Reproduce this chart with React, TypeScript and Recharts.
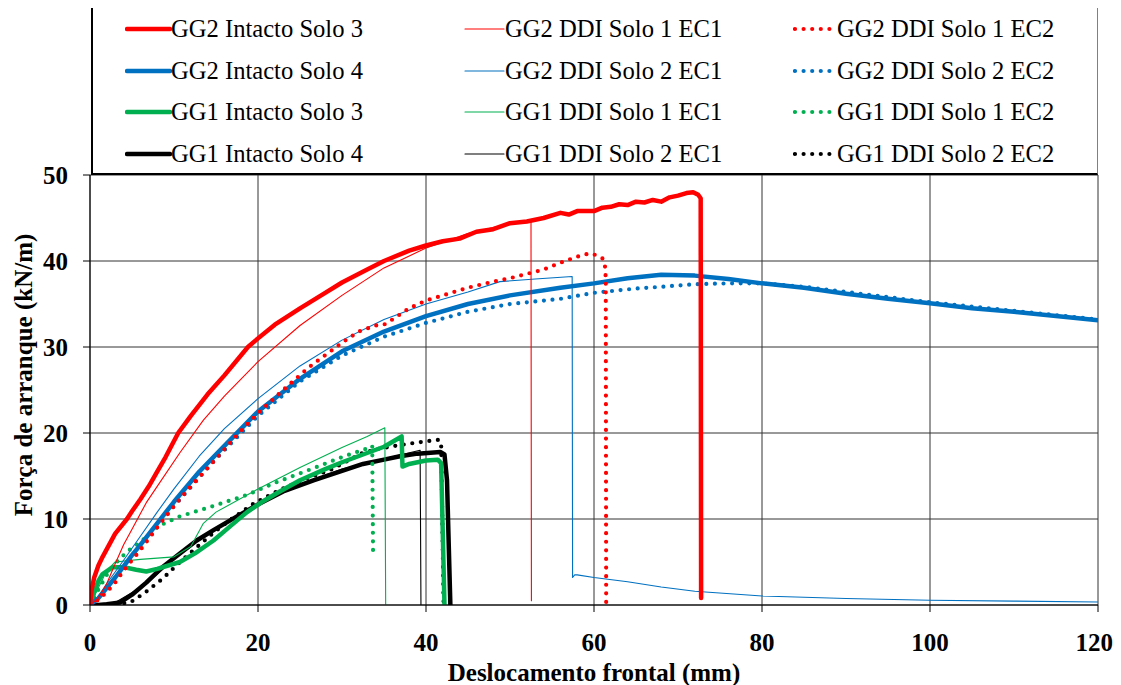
import React from 'react';
import { LineChart, Line, XAxis, YAxis, CartesianGrid } from 'recharts';

type Pt = [number, number];

const xTicks = [0, 20, 40, 60, 80, 100, 120];
const yTicks = [0, 10, 20, 30, 40, 50];
const xTitle = 'Deslocamento frontal (mm)';
const yTitle = 'Força de arranque (kN/m)';

const gg2IntactoSolo3: Pt[] = [[0,0],[0.2,1.8],[0.5,3.2],[1,4.6],[1.5,5.6],[2,6.5],[3,8.3],[4.4,10],[5,10.9],[6,12.3],[7,13.8],[8,15.5],[9,17.2],[10.5,20],[12,22],[14,24.5],[16,26.7],[18.8,30],[20,31],[22,32.6],[25,34.5],[28,36.3],[30,37.5],[33,39],[35,40],[38,41.2],[40,41.8],[42,42.3],[44,42.6],[46,43.4],[48,43.7],[50,44.4],[52,44.6],[54,45.0],[56,45.6],[57,45.4],[58,45.8],[60,45.8],[61,46.2],[62,46.3],[63,46.6],[64,46.5],[65,46.9],[66,46.8],[67,47.1],[68,46.9],[69,47.4],[70,47.6],[71,47.9],[71.8,48.0],[72.4,47.7],[72.7,47.3],[72.75,0.8]];
const gg2IntactoSolo4: Pt[] = [[0,0],[1,0.8],[2,2],[3,3.2],[4,4.5],[5,5.8],[6,7],[8,9.5],[10,12],[13,15.5],[16,18.5],[20,22.5],[25,26.3],[30,29.5],[35,31.8],[40,33.6],[45,35],[50,36],[56,36.9],[60,37.4],[64,38],[68,38.4],[72,38.3],[76,37.9],[80,37.4],[85,36.9],[90,36.2],[95,35.6],[100,35.1],[105,34.5],[110,34.1],[115,33.6],[120,33.1]];
const gg1IntactoSolo3: Pt[] = [[0,0],[0.5,1.5],[1,2.8],[1.5,3.6],[2.7,4.4],[4,4.4],[5.5,4.1],[6.7,3.9],[8,4.2],[10.7,5],[12.5,6],[14.7,7.5],[16.5,9],[18.7,10.8],[20.5,12],[22.6,13.2],[25,14.5],[28,15.8],[30,16.6],[32.5,17.5],[35,18.4],[37.1,19.6],[37.2,16.1],[38,16.4],[40,16.8],[41.4,16.9],[41.8,16.5],[42.2,0]];
const gg1IntactoSolo4: Pt[] = [[0,0],[1,0],[2,0.1],[3.6,0.3],[5,1.2],[6.7,2.6],[8.5,4.3],[10.7,6],[12.7,7.5],[14.7,8.7],[17.5,10.3],[20.2,11.8],[23,13.2],[26.6,14.5],[30,15.6],[32.5,16.4],[35,16.9],[36.9,17.3],[39,17.6],[41.7,17.8],[42.2,17.5],[42.5,14.5],[42.9,0]];

const gg2DdiSolo1Ec1: Pt[] = [[0,0],[1,0.8],[2,2.5],[3,4.8],[4,7],[5,8.8],[6.7,11.9],[8,13.8],[10.7,17.7],[13.5,21.5],[16,24.3],[20,28.3],[25,32.5],[30,36],[35,39.2],[40,41.5],[45,43.2],[48,43.9],[50,44.3],[52.5,44.5],[52.55,0.5]];
const gg2DdiSolo2Ec1: Pt[] = [[0,0],[1,1],[2,2.5],[4,5.2],[6,8],[8,10.8],[10,13.5],[13,17.3],[16,20.5],[20,24],[25,27.8],[30,30.8],[35,33.2],[40,35],[45,36.4],[48.8,37.6],[53,37.9],[57.4,38.2],[57.45,3.2],[57.7,3.5],[58,3.5],[60,3.2],[64,2.7],[68,2.1],[72,1.6],[80,1.05],[90,0.75],[100,0.55],[110,0.45],[120,0.35]];
const gg1DdiSolo1Ec1: Pt[] = [[0,0],[1,2],[2,4],[3,5],[6,5.3],[10,5.6],[12,6.8],[13.5,9.5],[15,10.8],[20,13.5],[25,16],[30,18.3],[33,19.6],[35.1,20.6],[35.2,0]];
const gg1DdiSolo2Ec1: Pt[] = [[0,0],[3,0.3],[6,2],[8,3.6],[10,5.3],[12.5,7.2],[15,8.8],[20,11.8],[25,14],[30,15.8],[35,17],[39.3,18],[39.4,0]];

const gg2DdiSolo1Ec2: Pt[] = [[0,0],[1,0.6],[2,1.5],[3,2.6],[4,4],[5,5.2],[6,6.4],[8,9],[10,11.5],[12,13.8],[15,17],[18,20.3],[20,22.3],[23,25],[26,27.6],[30,30.5],[32,31.8],[34,32.5],[35,32.6],[36,33.2],[38,34.5],[40,35.4],[42,36],[45,36.9],[48,37.6],[50,38],[52,38.5],[54,39],[56,39.8],[58,40.5],[59.5,40.9],[60.5,40.6],[61,40.3],[61.3,39.5],[61.4,38],[61.45,0]];
const gg2DdiSolo2Ec2: Pt[] = [[0,0],[1,0.7],[2,1.8],[4,4.2],[6,6.8],[8,9.2],[10,11.5],[15,17],[20,22],[25,26],[30,29],[35,31.2],[40,32.8],[45,34.1],[50,35],[56,35.6],[60,36.3],[65,36.8],[68,37],[72,37.3],[76,37.4],[80,37.4],[85,37],[90,36.4],[95,35.8],[100,35.2],[105,34.7],[110,34.2],[115,33.7],[120,33.2]];
const gg1DdiSolo1Ec2: Pt[] = [[0,0],[1,1.8],[2,3.5],[3,4.8],[4.4,6.2],[6,7.3],[8,9.1],[10.7,10.3],[14,11.3],[18.7,12.8],[22,14.2],[26.6,15.9],[30,17.2],[33,18.2],[33.6,18.5],[33.7,5.8]];
const gg1DdiSolo2Ec2: Pt[] = [[0,0],[2,0],[3,0.1],[4.8,0.3],[6.5,1.4],[8.7,3.1],[10.5,4.8],[12.7,6.7],[14.7,8.4],[16.7,9.9],[19.5,11.8],[22.6,13.4],[25.5,14.6],[28.6,15.7],[32.5,17.7],[34.5,18.2],[36.9,18.6],[39,18.9],[41.4,19.2],[41.8,19],[42.1,0]];

const seriesNames = [
  'GG2 Intacto Solo 3', 'GG2 Intacto Solo 4', 'GG1 Intacto Solo 3', 'GG1 Intacto Solo 4',
  'GG2 DDI Solo 1 EC1', 'GG2 DDI Solo 2 EC1', 'GG1 DDI Solo 1 EC1', 'GG1 DDI Solo 2 EC1',
  'GG2 DDI Solo 1 EC2', 'GG2 DDI Solo 2 EC2', 'GG1 DDI Solo 1 EC2', 'GG1 DDI Solo 2 EC2',
];
const seriesData: Pt[][] = [
  gg2IntactoSolo3, gg2IntactoSolo4, gg1IntactoSolo3, gg1IntactoSolo4,
  gg2DdiSolo1Ec1, gg2DdiSolo2Ec1, gg1DdiSolo1Ec1, gg1DdiSolo2Ec1,
  gg2DdiSolo1Ec2, gg2DdiSolo2Ec2, gg1DdiSolo1Ec2, gg1DdiSolo2Ec2,
];

const RED = '#FF0000';
const BLUE = '#0070C0';
const GREEN = '#00B050';
const BLACK = '#000000';
const palette = [RED, BLUE, GREEN, BLACK];

type Kind = 'thick' | 'thin' | 'dot';
const kinds: Kind[] = ['thick', 'thin', 'dot'];

const styleOf = (k: Kind) => {
  if (k === 'thick') return { width: 4.5, dash: undefined as string | undefined };
  if (k === 'thin') return { width: 1.1, dash: undefined as string | undefined };
  return { width: 4.2, dash: '0 8.6' };
};

const series = seriesNames.map((name, i) => {
  const kind = kinds[Math.floor(i / 4)];
  const color = palette[i % 4];
  return {
    name,
    kind,
    color,
    data: seriesData[i].map(([x, y]) => ({ x, y })),
    ...styleOf(kind),
  };
});

// draw order: GG1 first, then blue, then red on top
const drawOrder = [3, 7, 11, 2, 6, 10, 1, 5, 9, 4, 8, 0];

const FONT = '"Liberation Serif", "Times New Roman", Times, serif';
const W = 1105;
const H = 677;
const FS = 25;

const YTitle = () => (
  <text x={15} y={367} transform="rotate(-90 15 367)" textAnchor="middle" dominantBaseline="central"
    fontFamily={FONT} fontSize={FS} fontWeight={700} fill="#000">{yTitle}</text>
);

export default function App() {
  return (
    <div style={{ position: 'relative', width: W, height: H, fontFamily: FONT }}>
      <LineChart width={W} height={H} margin={{ top: 167, right: 15, bottom: 0, left: 0 }} style={{ fontFamily: FONT }}>
        <CartesianGrid stroke="#333" strokeWidth={1} horizontalValues={yTicks} verticalValues={xTicks} />
        <XAxis type="number" dataKey="x" domain={[0, 120]} ticks={xTicks} allowDataOverflow
          height={80} tickSize={7} tickMargin={21}
          axisLine={{ stroke: '#000', strokeWidth: 1 }} tickLine={{ stroke: '#000' }}
          tick={{ fontFamily: FONT, fontSize: FS, fontWeight: 700, fill: '#000' }}
          label={{ value: xTitle, position: 'insideBottom', offset: 4, fontFamily: FONT, fontSize: FS, fontWeight: 700, fill: '#000' }} />
        <YAxis type="number" domain={[0, 50]} ticks={yTicks} allowDataOverflow width={82}
          tickSize={7} tickMargin={15}
          axisLine={{ stroke: '#000', strokeWidth: 1 }} tickLine={{ stroke: '#000' }}
          tick={{ fontFamily: FONT, fontSize: FS, fontWeight: 700, fill: '#000' }}
          label={{ content: () => <YTitle /> }} />
        {drawOrder.map((i) => {
          const s = series[i];
          return (
            <Line key={s.name} name={s.name} data={s.data} dataKey="y" type="linear"
              stroke={s.color} strokeWidth={s.width} strokeDasharray={s.dash}
              strokeLinecap="round" strokeLinejoin="round"
              dot={false} activeDot={false} isAnimationActive={false} />
          );
        })}
      </LineChart>
      <div style={{
        position: 'absolute', left: 83, top: -1, width: 1007, height: 168, boxSizing: 'border-box',
        border: '1px solid #808080', borderLeft: '2px solid #000', borderBottom: '2px solid #000', background: '#fff',
      }} />
      {series.map((s, i) => {
        const col = Math.floor(i / 4);
        const row = i % 4;
        const lineLeft = [117, 455, 785][col];
        const lineLen = [43, 39, 42][col];
        const textLeft = [163, 497, 829][col];
        const cy = [21, 63, 104, 146][row];
        return (
          <React.Fragment key={'lg' + i}>
            <svg style={{ position: 'absolute', left: lineLeft, top: cy - 5 }} width={lineLen + 4} height={10}>
              <line x1={2} y1={5} x2={lineLen + 2} y2={5} stroke={s.color} strokeWidth={s.width}
                strokeDasharray={s.dash} strokeLinecap="round" />
            </svg>
            <div style={{ position: 'absolute', left: textLeft, top: cy - 15, fontSize: 24.6, lineHeight: '30px', whiteSpace: 'nowrap', color: '#000', fontFamily: FONT }}>
              {s.name}
            </div>
          </React.Fragment>
        );
      })}
    </div>
  );
}
